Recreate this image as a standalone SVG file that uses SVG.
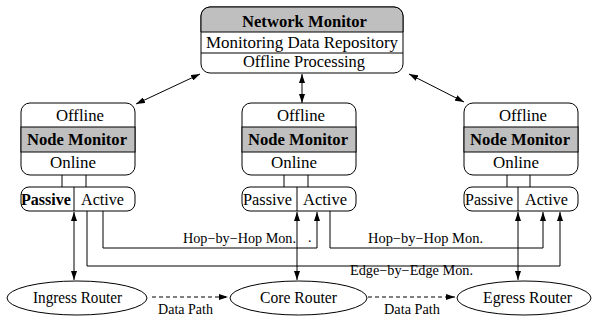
<svg xmlns="http://www.w3.org/2000/svg" width="594" height="320" viewBox="0 0 594 320">
<style>
.box{fill:#fff;stroke:#000;stroke-width:1}
.band{fill:#bfbfbf;stroke:#000;stroke-width:1}
.ln{fill:none;stroke:#000;stroke-width:1}
.t{font-family:"Liberation Serif","Times New Roman",serif;font-size:16px;fill:#000}
.b{font-weight:bold}
.s{font-size:14px}
.c{fill:none;stroke:#000;stroke-width:1}
.dash{stroke-dasharray:4,3}
</style>
<defs>
<marker id="ah" viewBox="0 0 9 6" refX="9" refY="3" markerWidth="9" markerHeight="6" markerUnits="userSpaceOnUse" orient="auto-start-reverse">
<path d="M0,0 L9,3 L0,6 z" fill="#000"/>
</marker>
</defs>

<g id="network-monitor">
<rect class="box" x="201" y="7" width="202" height="66" rx="9"/>
<path class="band" d="M201,32 V16 A9,9 0 0 1 210,7 H394 A9,9 0 0 1 403,16 V32 Z"/>
<line class="ln" x1="201" y1="53" x2="403" y2="53"/>
<text class="t b" x="242" y="27" textLength="125" lengthAdjust="spacingAndGlyphs">Network Monitor</text>
<text class="t" x="206" y="48" textLength="192" lengthAdjust="spacingAndGlyphs">Monitoring  Data Repository</text>
<text class="t" x="243" y="67" textLength="122" lengthAdjust="spacingAndGlyphs">Offline Processing</text>
</g>

<g id="node-left">
<rect class="box" x="21" y="103" width="114" height="72" rx="9"/>
<rect class="band" x="21" y="127" width="114" height="25"/>
<text class="t" x="56" y="121" textLength="48" lengthAdjust="spacingAndGlyphs">Offline</text>
<text class="t b" x="27" y="145" textLength="100" lengthAdjust="spacingAndGlyphs">Node Monitor</text>
<text class="t" x="50" y="168" textLength="46" lengthAdjust="spacingAndGlyphs">Online</text>
<line class="ln" x1="62" y1="175" x2="62" y2="187"/>
<line class="ln" x1="86" y1="175" x2="86" y2="187"/>
<rect class="box" x="21" y="187" width="114" height="24" rx="8"/>
<line class="ln" x1="74" y1="187" x2="74" y2="211"/>
<text class="t b" x="21" y="205" textLength="50" lengthAdjust="spacingAndGlyphs">Passive</text>
<text class="t" x="81" y="205" textLength="43" lengthAdjust="spacingAndGlyphs">Active</text>
</g>

<g id="node-middle">
<rect class="box" x="242" y="103" width="114" height="72" rx="9"/>
<rect class="band" x="242" y="127" width="114" height="25"/>
<text class="t" x="277" y="121" textLength="48" lengthAdjust="spacingAndGlyphs">Offline</text>
<text class="t b" x="248" y="145" textLength="100" lengthAdjust="spacingAndGlyphs">Node Monitor</text>
<text class="t" x="271" y="168" textLength="46" lengthAdjust="spacingAndGlyphs">Online</text>
<line class="ln" x1="284" y1="175" x2="284" y2="187"/>
<line class="ln" x1="308" y1="175" x2="308" y2="187"/>
<rect class="box" x="242" y="187" width="114" height="24" rx="8"/>
<line class="ln" x1="297" y1="187" x2="297" y2="211"/>
<text class="t" x="243" y="205" textLength="49" lengthAdjust="spacingAndGlyphs">Passive</text>
<text class="t" x="303" y="205" textLength="44" lengthAdjust="spacingAndGlyphs">Active</text>
</g>

<g id="node-right">
<rect class="box" x="464" y="103" width="114" height="72" rx="9"/>
<rect class="band" x="464" y="127" width="114" height="25"/>
<text class="t" x="499" y="121" textLength="48" lengthAdjust="spacingAndGlyphs">Offline</text>
<text class="t b" x="470" y="145" textLength="100" lengthAdjust="spacingAndGlyphs">Node Monitor</text>
<text class="t" x="493" y="168" textLength="46" lengthAdjust="spacingAndGlyphs">Online</text>
<line class="ln" x1="507" y1="175" x2="507" y2="187"/>
<line class="ln" x1="530" y1="175" x2="530" y2="187"/>
<rect class="box" x="464" y="187" width="114" height="24" rx="8"/>
<line class="ln" x1="518" y1="187" x2="518" y2="211"/>
<text class="t" x="465" y="205" textLength="48" lengthAdjust="spacingAndGlyphs">Passive</text>
<text class="t" x="525" y="205" textLength="43" lengthAdjust="spacingAndGlyphs">Active</text>
</g>

<g id="ingress-router">
<ellipse class="box" cx="77" cy="298" rx="70" ry="17"/>
<text class="t" x="33" y="303" textLength="89" lengthAdjust="spacingAndGlyphs">Ingress Router</text>
</g>
<g id="core-router">
<ellipse class="box" cx="298.5" cy="298" rx="68.5" ry="17"/>
<text class="t" x="260" y="303" textLength="77" lengthAdjust="spacingAndGlyphs">Core Router</text>
</g>
<g id="egress-router">
<ellipse class="box" cx="524" cy="298" rx="67" ry="17"/>
<text class="t" x="483" y="303" textLength="89" lengthAdjust="spacingAndGlyphs">Egress  Router</text>
</g>

<g id="connectors">
<line class="c" x1="136" y1="104" x2="200" y2="74" marker-start="url(#ah)" marker-end="url(#ah)"/>
<line class="c" x1="302" y1="74" x2="302" y2="103" marker-start="url(#ah)" marker-end="url(#ah)"/>
<line class="c" x1="409" y1="74" x2="464" y2="102" marker-start="url(#ah)" marker-end="url(#ah)"/>
<line class="c" x1="74" y1="212" x2="74" y2="280" marker-start="url(#ah)" marker-end="url(#ah)"/>
<line class="c" x1="297" y1="212" x2="297" y2="280" marker-start="url(#ah)" marker-end="url(#ah)"/>
<line class="c" x1="518" y1="212" x2="518" y2="280" marker-start="url(#ah)" marker-end="url(#ah)"/>
<polyline class="c" points="103,211 103,248 317,248 317,212" marker-end="url(#ah)"/>
<polyline class="c" points="330,211 330,248 543,248 543,212" marker-end="url(#ah)"/>
<polyline class="c" points="87,211 87,266 560,266 560,212" marker-end="url(#ah)"/>
<line class="c dash" x1="152" y1="297" x2="228" y2="297" marker-end="url(#ah)"/>
<line class="c dash" x1="368" y1="297" x2="455" y2="297" marker-end="url(#ah)"/>
<text class="t s" x="183" y="243" textLength="113" lengthAdjust="spacingAndGlyphs">Hop−by−Hop Mon.</text>
<text class="t s" x="308" y="242">.</text>
<text class="t s" x="368" y="243" textLength="115" lengthAdjust="spacingAndGlyphs">Hop−by−Hop Mon.</text>
<text class="t s" x="350" y="275" textLength="123" lengthAdjust="spacingAndGlyphs">Edge−by−Edge Mon.</text>
<text class="t s" x="158" y="314" textLength="55" lengthAdjust="spacingAndGlyphs">Data Path</text>
<text class="t s" x="384" y="314" textLength="56" lengthAdjust="spacingAndGlyphs">Data Path</text>
</g>
</svg>
